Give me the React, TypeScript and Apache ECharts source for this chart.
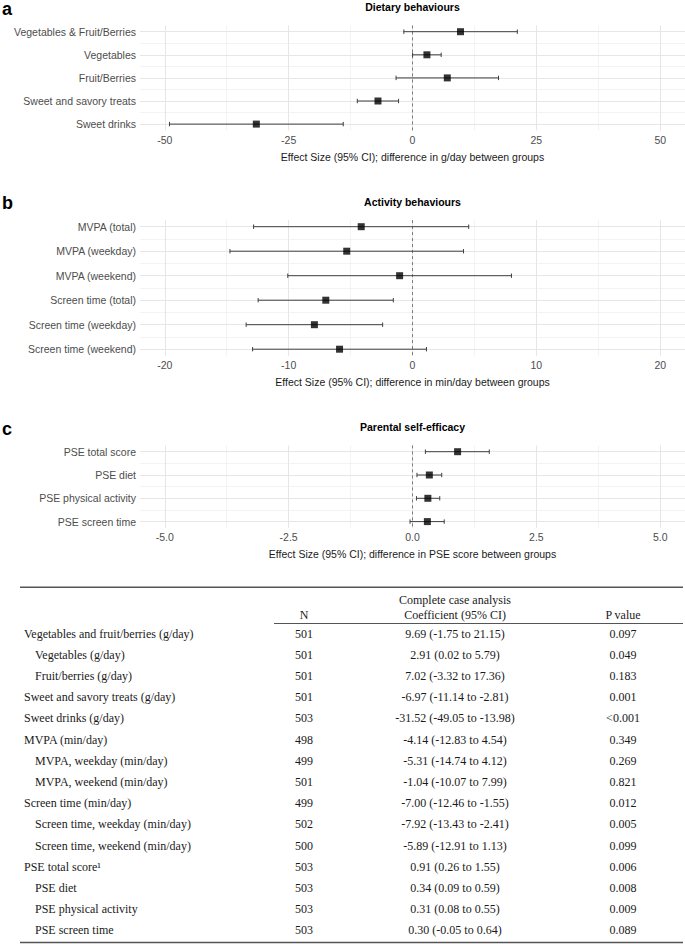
import React, { useEffect, useRef } from 'react';
import * as echarts from 'echarts';

// ---------- Data ----------
const dietLabels = ['Vegetables & Fruit/Berries', 'Vegetables', 'Fruit/Berries', 'Sweet and savory treats', 'Sweet drinks'];
const dietEst = [9.69, 2.91, 7.02, -6.97, -31.52];
const dietLow = [-1.75, 0.02, -3.32, -11.14, -49.05];
const dietHigh = [21.15, 5.79, 17.36, -2.81, -13.98];
const dietTicks = [-50, -25, 0, 25, 50];

const actLabels = ['MVPA (total)', 'MVPA (weekday)', 'MVPA (weekend)', 'Screen time (total)', 'Screen time (weekday)', 'Screen time (weekend)'];
const actEst = [-4.14, -5.31, -1.04, -7.0, -7.92, -5.89];
const actLow = [-12.83, -14.74, -10.07, -12.46, -13.43, -12.91];
const actHigh = [4.54, 4.12, 7.99, -1.55, -2.41, 1.13];
const actTicks = [-20, -10, 0, 10, 20];

const pseLabels = ['PSE total score', 'PSE diet', 'PSE physical activity', 'PSE screen time'];
const pseEst = [0.91, 0.34, 0.31, 0.3];
const pseLow = [0.26, 0.09, 0.08, -0.05];
const pseHigh = [1.55, 0.59, 0.55, 0.64];
const pseTicks = [-5, -2.5, 0, 2.5, 5];

const tableLabels = [
  'Vegetables and fruit/berries (g/day)', 'Vegetables (g/day)', 'Fruit/berries (g/day)',
  'Sweet and savory treats (g/day)', 'Sweet drinks (g/day)', 'MVPA (min/day)',
  'MVPA, weekday (min/day)', 'MVPA, weekend (min/day)', 'Screen time (min/day)',
  'Screen time, weekday (min/day)', 'Screen time, weekend (min/day)', 'PSE total score¹',
  'PSE diet', 'PSE physical activity', 'PSE screen time',
];
const tableIndent = [false, true, true, false, false, false, true, true, false, true, true, false, true, true, true];
const tableN = ['501', '501', '501', '501', '503', '498', '499', '501', '499', '502', '500', '503', '503', '503', '503'];
const tableCoef = [
  '9.69 (-1.75 to 21.15)', '2.91 (0.02 to 5.79)', '7.02 (-3.32 to 17.36)', '-6.97 (-11.14 to -2.81)',
  '-31.52 (-49.05 to -13.98)', '-4.14 (-12.83 to 4.54)', '-5.31 (-14.74 to 4.12)', '-1.04 (-10.07 to 7.99)',
  '-7.00 (-12.46 to -1.55)', '-7.92 (-13.43 to -2.41)', '-5.89 (-12.91 to 1.13)', '0.91 (0.26 to 1.55)',
  '0.34 (0.09 to 0.59)', '0.31 (0.08 to 0.55)', '0.30 (-0.05 to 0.64)',
];
const tableP = ['0.097', '0.049', '0.183', '0.001', '<0.001', '0.349', '0.269', '0.821', '0.012', '0.005', '0.099', '0.006', '0.008', '0.009', '0.089'];
const tableHeader = ['N', 'Coefficient (95% CI)', 'P value'];
const tableSuperHeader = 'Complete case analysis';

// ---------- Styling / layout ----------
const SANS = '"Liberation Sans", Arial, Helvetica, sans-serif';
const SERIF = '"Liberation Serif", "Times New Roman", Times, serif';
const PAD = 0.27;
const GRID_LEFT = 140;
const GRID_WIDTH = 545;

const panels = [
  { labels: dietLabels, est: dietEst, lo: dietLow, hi: dietHigh, ticks: dietTicks, dec: 0,
    title: 'Dietary behaviours', xTitle: 'Effect Size (95% CI); difference in g/day between groups',
    letter: 'a', row0: 31.7, step: 23.1 },
  { labels: actLabels, est: actEst, lo: actLow, hi: actHigh, ticks: actTicks, dec: 0,
    title: 'Activity behaviours', xTitle: 'Effect Size (95% CI); difference in min/day between groups',
    letter: 'b', row0: 226.7, step: 24.5 },
  { labels: pseLabels, est: pseEst, lo: pseLow, hi: pseHigh, ticks: pseTicks, dec: 1,
    title: 'Parental self-efficacy', xTitle: 'Effect Size (95% CI); difference in PSE score between groups',
    letter: 'c', row0: 451.7, step: 23.3 },
];

function buildOption() {
  const grid: any[] = [];
  const xAxis: any[] = [];
  const yAxis: any[] = [];
  const series: any[] = [];
  const graphic: any[] = [];

  panels.forEach((p, i) => {
    const n = p.labels.length;
    const top = p.row0 - PAD * p.step;
    const height = (n - 1 + 2 * PAD) * p.step;
    const lim = p.ticks[p.ticks.length - 1] * 1.1;
    grid.push({ left: GRID_LEFT, top, width: GRID_WIDTH, height, containLabel: false, outerBoundsMode: 'none' });
    xAxis.push({
      gridIndex: i, type: 'value', min: -lim, max: lim,
      axisLine: { show: false }, axisTick: { show: false, customValues: p.ticks }, splitLine: { show: false },
      axisLabel: {
        customValues: p.ticks, formatter: (v: number) => v.toFixed(p.dec),
        color: '#4d4d4d', fontSize: 10.5, fontFamily: SANS, margin: 4,
      },
      name: p.xTitle, nameLocation: 'middle', nameGap: 21,
      nameTextStyle: { color: '#1a1a1a', fontSize: 10.5, fontFamily: SANS },
    });
    const rows = p.labels.map((_, k) => k);
    yAxis.push({
      gridIndex: i, type: 'value', inverse: true, min: -PAD, max: n - 1 + PAD,
      axisLine: { show: false }, axisTick: { show: false, customValues: rows }, splitLine: { show: false },
      axisLabel: {
        customValues: rows, formatter: (v: number) => p.labels[Math.round(v)] ?? '',
        color: '#4d4d4d', fontSize: 10.5, fontFamily: SANS, margin: 4,
      },
    });

    const minor: number[] = [];
    for (let k = 0; k < p.ticks.length - 1; k++) minor.push((p.ticks[k] + p.ticks[k + 1]) / 2);
    const rowMinor: number[] = [];
    for (let k = 0; k < n - 1; k++) rowMinor.push(k + 0.5);
    const major = { color: '#e6e6e6', width: 1, type: 'solid' };
    const minorStyle = { color: '#eeeeee', width: 0.7, type: 'solid' };
    const mlData: any[] = [
      ...minor.map((v) => ({ xAxis: v, lineStyle: minorStyle })),
      ...rowMinor.map((v) => ({ yAxis: v, lineStyle: minorStyle })),
      ...p.ticks.map((v) => ({ xAxis: v, lineStyle: major })),
      ...rows.map((v) => ({ yAxis: v, lineStyle: major })),
      { xAxis: 0, lineStyle: { color: '#6e6e6e', width: 0.9, type: [3, 3] } },
    ];
    series.push({
      type: 'line', xAxisIndex: i, yAxisIndex: i, data: [[0, 0]], symbol: 'none',
      lineStyle: { opacity: 0 }, silent: true, z: 1,
      markLine: { silent: true, symbol: ['none', 'none'], label: { show: false }, z: 1, animation: false, data: mlData },
    });
    series.push({
      type: 'custom', xAxisIndex: i, yAxisIndex: i, z: 3, silent: true,
      data: rows.map((k) => [k, p.lo[k], p.hi[k]]),
      encode: { x: [1, 2], y: 0 },
      renderItem: (_params: any, api: any) => {
        const y = api.value(0);
        const a = api.coord([api.value(1), y]);
        const b = api.coord([api.value(2), y]);
        const cap = 2.2;
        const st = { stroke: '#3f3f3f', lineWidth: 1 };
        return {
          type: 'group',
          children: [
            { type: 'line', shape: { x1: a[0], y1: a[1], x2: b[0], y2: b[1] }, style: st },
            { type: 'line', shape: { x1: a[0], y1: a[1] - cap, x2: a[0], y2: a[1] + cap }, style: st },
            { type: 'line', shape: { x1: b[0], y1: b[1] - cap, x2: b[0], y2: b[1] + cap }, style: st },
          ],
        };
      },
    });
    series.push({
      type: 'scatter', xAxisIndex: i, yAxisIndex: i, z: 4, silent: true,
      symbol: 'rect', symbolSize: 7, itemStyle: { color: '#000' },
      data: rows.map((k) => [p.est[k], k]),
    });

    const letterY = top - 16.7;
    graphic.push({
      type: 'text', x: 2, y: letterY,
      style: { text: p.letter, fill: '#000', fontSize: 18, lineHeight: 18, fontWeight: 'bold', fontFamily: SANS, textAlign: 'left', textVerticalAlign: 'middle' },
    });
    graphic.push({
      type: 'text', x: GRID_LEFT + GRID_WIDTH / 2, y: letterY - 1.6,
      style: { text: p.title, fill: '#000', fontSize: 10.5, fontWeight: 'bold', fontFamily: SANS, textAlign: 'center', textVerticalAlign: 'middle' },
    });
  });

  // ---------- Table ----------
  const lineColor = '#555';
  const colN = 304, colC = 455, colP = 623;
  const tl = 20, tr = 683;
  graphic.push({ type: 'line', shape: { x1: tl, y1: 587.3, x2: tr, y2: 587.3 }, style: { stroke: lineColor, lineWidth: 1.4 } });
  graphic.push({ type: 'line', shape: { x1: 274, y1: 623.5, x2: tr, y2: 623.5 }, style: { stroke: lineColor, lineWidth: 1 } });
  graphic.push({ type: 'line', shape: { x1: tl, y1: 942.5, x2: tr, y2: 942.5 }, style: { stroke: lineColor, lineWidth: 1.4 } });
  const tStyle = (text: string, align: string) => ({
    text, fill: '#1a1a1a', fontSize: 12, fontFamily: SERIF, textAlign: align, textVerticalAlign: 'middle',
  });
  graphic.push({ type: 'text', x: colC, y: 599.5, style: tStyle(tableSuperHeader, 'center') });
  [colN, colC, colP].forEach((x, k) => {
    graphic.push({ type: 'text', x, y: 615, style: tStyle(tableHeader[k], 'center') });
  });
  const rowY0 = 633.5, rowStep = 21.2;
  tableLabels.forEach((lab, k) => {
    const y = rowY0 + k * rowStep;
    graphic.push({ type: 'text', x: tableIndent[k] ? 35 : 24, y, style: tStyle(lab, 'left') });
    graphic.push({ type: 'text', x: colN, y, style: tStyle(tableN[k], 'center') });
    graphic.push({ type: 'text', x: colC, y, style: tStyle(tableCoef[k], 'center') });
    graphic.push({ type: 'text', x: colP, y, style: tStyle(tableP[k], 'center') });
  });

  return {
    animation: false,
    backgroundColor: '#ffffff',
    grid, xAxis, yAxis, series, graphic,
  };
}

export default function App() {
  const ref = useRef<HTMLDivElement>(null);
  useEffect(() => {
    if (!ref.current) return;
    const chart = echarts.init(ref.current, undefined, { renderer: 'svg' });
    chart.setOption(buildOption() as any);
    return () => chart.dispose();
  }, []);
  return <div ref={ref} style={{ position: 'absolute', left: 0, top: 0, width: 685, height: 944 }} />;
}
